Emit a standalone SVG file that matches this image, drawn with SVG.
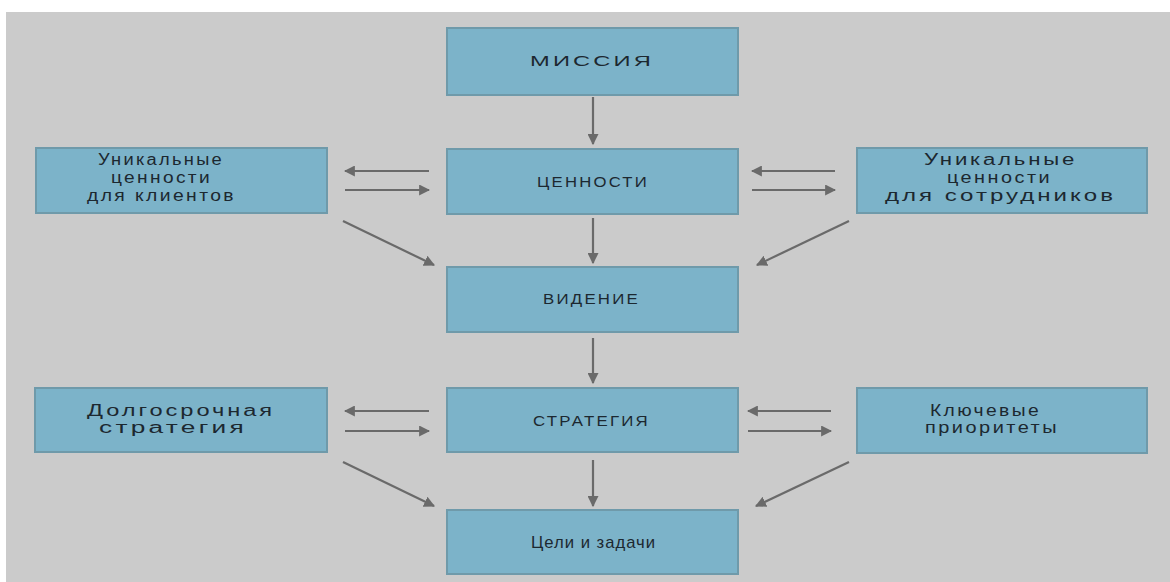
<svg xmlns="http://www.w3.org/2000/svg" width="1170" height="582" viewBox="0 0 1170 582">
<style>
.box{fill:#7cb3c9;stroke:#6f9aaa;stroke-width:2}
.t{font-family:"Liberation Sans",Arial,sans-serif;font-size:15px;fill:#1c2830;letter-spacing:2px}
.l{font-size:16px}
.g{font-size:17px;letter-spacing:1px}
.c{stroke:#6a6a6a;stroke-width:2.2;fill:none;marker-end:url(#ah)}
</style>
<defs>
<marker id="ah" viewBox="0 0 10 10" refX="9" refY="5" markerWidth="5" markerHeight="5" orient="auto" markerUnits="strokeWidth">
<path d="M0,0 L10,5 L0,10 z" fill="#6a6a6a"/>
</marker>
</defs>
<rect x="0" y="0" width="1170" height="582" fill="#ffffff"/>
<rect x="6" y="12" width="1164" height="570" fill="#cbcbcb"/>
<g id="connectors">
<line class="c" x1="593" y1="97" x2="593" y2="144"/>
<line class="c" x1="593" y1="218" x2="593" y2="263"/>
<line class="c" x1="593" y1="338" x2="593" y2="383"/>
<line class="c" x1="593" y1="460" x2="593" y2="506"/>
<line class="c" x1="429" y1="171" x2="345" y2="171"/>
<line class="c" x1="345" y1="190" x2="429" y2="190"/>
<line class="c" x1="835" y1="171" x2="752" y2="171"/>
<line class="c" x1="752" y1="190" x2="835" y2="190"/>
<line class="c" x1="343" y1="221" x2="434" y2="265"/>
<line class="c" x1="849" y1="221" x2="757" y2="265"/>
<line class="c" x1="429" y1="411" x2="345" y2="411"/>
<line class="c" x1="345" y1="431" x2="429" y2="431"/>
<line class="c" x1="831" y1="411" x2="748" y2="411"/>
<line class="c" x1="748" y1="431" x2="831" y2="431"/>
<line class="c" x1="343" y1="462" x2="434" y2="506"/>
<line class="c" x1="849" y1="462" x2="756" y2="506"/>
</g>
<g id="missiya"><rect class="box" x="447" y="28" width="291" height="67"/><text class="t" x="530" y="66" textLength="124" lengthAdjust="spacingAndGlyphs">МИССИЯ</text></g>
<g id="tsennosti"><rect class="box" x="447" y="149" width="291" height="65"/><text class="t" x="537" y="187" textLength="112" lengthAdjust="spacingAndGlyphs">ЦЕННОСТИ</text></g>
<g id="videnie"><rect class="box" x="447" y="267" width="291" height="65"/><text class="t" x="543" y="304" textLength="97" lengthAdjust="spacingAndGlyphs">ВИДЕНИЕ</text></g>
<g id="strategiya"><rect class="box" x="447" y="388" width="291" height="64"/><text class="t" x="533" y="426" textLength="117" lengthAdjust="spacingAndGlyphs">СТРАТЕГИЯ</text></g>
<g id="tseli"><rect class="box" x="447" y="510" width="291" height="64"/><text class="t g" x="531" y="548" textLength="125" lengthAdjust="spacingAndGlyphs">Цели и задачи</text></g>
<g id="klienty"><rect class="box" x="36" y="148" width="291" height="65"/><text class="t l" x="98" y="165" textLength="126" lengthAdjust="spacingAndGlyphs">Уникальные</text><text class="t l" x="111" y="183" textLength="101" lengthAdjust="spacingAndGlyphs">ценности</text><text class="t l" x="87" y="201" textLength="149" lengthAdjust="spacingAndGlyphs">для клиентов</text></g>
<g id="sotrudniki"><rect class="box" x="857" y="148" width="290" height="65"/><text class="t l" x="924" y="165" textLength="153" lengthAdjust="spacingAndGlyphs">Уникальные</text><text class="t l" x="947" y="183" textLength="105" lengthAdjust="spacingAndGlyphs">ценности</text><text class="t l" x="885" y="201" textLength="231" lengthAdjust="spacingAndGlyphs">для сотрудников</text></g>
<g id="dolgosrochnaya"><rect class="box" x="35" y="388" width="292" height="64"/><text class="t l" x="87" y="416" textLength="188" lengthAdjust="spacingAndGlyphs">Долгосрочная</text><text class="t l" x="99" y="433" textLength="148" lengthAdjust="spacingAndGlyphs">стратегия</text></g>
<g id="prioritety"><rect class="box" x="857" y="388" width="290" height="65"/><text class="t l" x="930" y="416" textLength="111" lengthAdjust="spacingAndGlyphs">Ключевые</text><text class="t l" x="925" y="433" textLength="134" lengthAdjust="spacingAndGlyphs">приоритеты</text></g>
</svg>
